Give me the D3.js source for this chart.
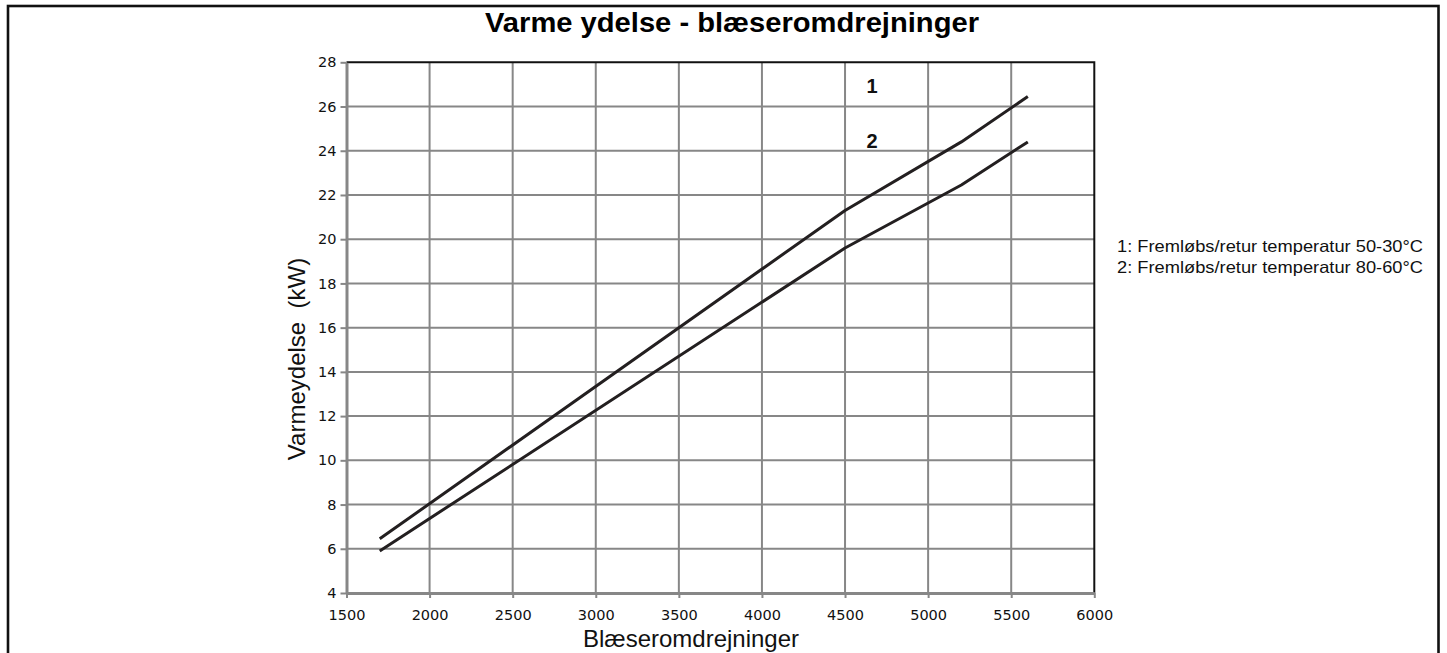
<!DOCTYPE html>
<html>
<head>
<meta charset="utf-8">
<script src="https://cdn.jsdelivr.net/npm/d3@7"></script>
<style>
  html, body { margin: 0; padding: 0; background: #fff; }
  svg { display: block; }
</style>
</head>
<body>
<svg id="chart" width="1447" height="653"></svg>
<script>
// Fan speed (rpm) vs. heat output (kW) for two flow/return temperature sets
const rpm = [1700, 4500, 5200, 5600];
const output5030 = [6.45, 21.3, 24.4, 26.45];
const output8060 = [5.9, 19.6, 22.45, 24.4];
const seriesNames = ["1", "2"];
const legendLines = [
  "1: Fremløbs/retur temperatur 50-30°C",
  "2: Fremløbs/retur temperatur 80-60°C"
];
const xTicks = [1500, 2000, 2500, 3000, 3500, 4000, 4500, 5000, 5500, 6000];
const yTicks = [4, 6, 8, 10, 12, 14, 16, 18, 20, 22, 24, 26, 28];

const svg = d3.select("#chart");
const gridColor = "#878787";
const inkColor = "#231f20";

// outer frame
svg.append("rect")
  .attr("x", 8).attr("y", 6)
  .attr("width", 1430.5).attr("height", 700)
  .attr("fill", "none").attr("stroke", "#111").attr("stroke-width", 2.6);

const plot = { left: 346.5, right: 1094.3, top: 62.3, bottom: 593 };

const x = d3.scaleLinear().domain([1500, 6000]).range([plot.left, plot.right]);
const y = d3.scaleLinear().domain([4, 28]).range([plot.bottom, plot.top]);

// grid
const grid = svg.append("g");
grid.selectAll("line.v").data(xTicks.slice(1, -1)).join("line")
  .attr("x1", d => x(d)).attr("x2", d => x(d))
  .attr("y1", plot.top).attr("y2", plot.bottom)
  .attr("stroke", gridColor).attr("stroke-width", 2);
grid.selectAll("line.h").data(yTicks.slice(1, -1)).join("line")
  .attr("x1", plot.left).attr("x2", plot.right)
  .attr("y1", d => y(d)).attr("y2", d => y(d))
  .attr("stroke", gridColor).attr("stroke-width", 2);

// top and right frame of the plot
svg.append("path")
  .attr("d", `M${plot.left},${plot.top}H${plot.right}V${plot.bottom}`)
  .attr("fill", "none").attr("stroke", "#111").attr("stroke-width", 2);

// axes
const xAxis = d3.axisBottom(x).tickValues(xTicks).tickFormat(d3.format("d"))
  .tickSize(5).tickPadding(12).tickSizeOuter(0);
const yAxis = d3.axisLeft(y).tickValues(yTicks).tickFormat(d3.format("d"))
  .tickSize(6).tickPadding(4).tickSizeOuter(0);

const gx = svg.append("g").attr("transform", `translate(0,${plot.bottom})`).call(xAxis);
const gy = svg.append("g").attr("transform", `translate(${plot.left},0)`).call(yAxis);
[gx, gy].forEach(g => {
  g.select(".domain").attr("stroke", gridColor).attr("stroke-width", 3);
  g.selectAll(".tick line").attr("stroke", gridColor).attr("stroke-width", 2);
  g.selectAll(".tick text")
    .attr("font-family", "'DejaVu Sans', sans-serif")
    .attr("font-size", 14.5)
    .attr("fill", "#111");
});

// series lines
const line = d3.line().x((d, i) => x(rpm[i])).y(d => y(d));
[output5030, output8060].forEach(vals => {
  svg.append("path")
    .attr("d", line(vals))
    .attr("fill", "none")
    .attr("stroke", inkColor)
    .attr("stroke-width", 3)
    .attr("stroke-linejoin", "round");
});

// series markers "1" and "2"
svg.selectAll("text.series").data(seriesNames).join("text")
  .attr("x", 872)
  .attr("y", (d, i) => [93, 148][i])
  .attr("text-anchor", "middle")
  .attr("font-family", "'Liberation Sans', Arial, sans-serif")
  .attr("font-weight", "bold")
  .attr("font-size", 20)
  .attr("fill", "#111")
  .text(d => d);

// title
svg.append("text")
  .attr("x", 732).attr("y", 32)
  .attr("text-anchor", "middle")
  .attr("font-family", "'Liberation Sans', Arial, sans-serif")
  .attr("font-weight", "bold")
  .attr("font-size", 27)
  .attr("textLength", 494)
  .attr("lengthAdjust", "spacingAndGlyphs")
  .attr("fill", "#000")
  .text("Varme ydelse - blæseromdrejninger");

// axis titles
svg.append("text")
  .attr("x", 691).attr("y", 647)
  .attr("text-anchor", "middle")
  .attr("font-family", "'Liberation Sans', Arial, sans-serif")
  .attr("font-size", 24)
  .attr("fill", "#111")
  .text("Blæseromdrejninger");

svg.append("text")
  .attr("transform", "translate(305,359) rotate(-90)")
  .attr("text-anchor", "middle")
  .attr("font-family", "'Liberation Sans', Arial, sans-serif")
  .attr("font-size", 24)
  .attr("fill", "#111")
  .attr("xml:space", "preserve")
  .text("Varmeydelse  (kW)");

// legend
svg.selectAll("text.legend").data(legendLines).join("text")
  .attr("x", 1117)
  .attr("y", (d, i) => 252 + i * 21)
  .attr("font-family", "'Liberation Sans', Arial, sans-serif")
  .attr("font-size", 16.5)
  .attr("textLength", 306)
  .attr("lengthAdjust", "spacingAndGlyphs")
  .attr("fill", "#111")
  .text(d => d);
</script>
</body>
</html>
